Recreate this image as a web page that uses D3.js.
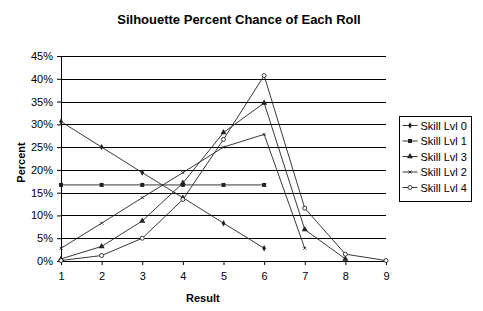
<!DOCTYPE html>
<html>
<head>
<meta charset="utf-8">
<script src="https://cdn.jsdelivr.net/npm/d3@7"></script>
<style>
  body { margin: 0; background: #fff; }
  text { font-family: Arial, "Liberation Sans", sans-serif; }
</style>
</head>
<body>
<div id="chart"></div>
<script>
// chart data
var results = [1, 2, 3, 4, 5, 6, 7, 8, 9];
var lvl0 = [30.6, 25.0, 19.4, 13.9, 8.3, 2.8];
var lvl1 = [16.7, 16.7, 16.7, 16.7, 16.7, 16.7];
var lvl3 = [0.46, 3.2, 8.8, 17.1, 28.2, 34.7, 6.9, 0.46];
var lvl2 = [2.8, 8.3, 13.9, 19.4, 25.0, 27.8, 2.8];
var lvl4 = [0.1, 1.2, 5.0, 13.5, 26.7, 40.7, 11.6, 1.5, 0.1];
var yTicks = [0, 5, 10, 15, 20, 25, 30, 35, 40, 45];

var seriesList = [
  { name: "Skill Lvl 0", values: lvl0, marker: "diamond" },
  { name: "Skill Lvl 1", values: lvl1, marker: "square" },
  { name: "Skill Lvl 3", values: lvl3, marker: "triangle" },
  { name: "Skill Lvl 2", values: lvl2, marker: "cross" },
  { name: "Skill Lvl 4", values: lvl4, marker: "circle" }
];

var svgWidth = 483;
var svgHeight = 311;
var margin = { top: 56, left: 61, right: 97, bottom: 50 };
var width = svgWidth - margin.left - margin.right;   // 325
var height = svgHeight - margin.top - margin.bottom; // 205

var svg = d3.select("#chart")
  .append("svg")
  .attr("width", svgWidth)
  .attr("height", svgHeight);

var chartGroup = svg.append("g")
  .attr("transform", `translate(${margin.left}, ${margin.top})`);

var xScale = d3.scaleLinear().domain([1, 9]).range([0, width]);
var yScale = d3.scaleLinear().domain([0, 45]).range([height, 0]);

// gridlines
chartGroup.selectAll(".grid")
  .data(yTicks.filter(d => d > 0))
  .enter()
  .append("line")
  .attr("x1", 0)
  .attr("x2", width)
  .attr("y1", d => Math.round(yScale(d)) + 0.5)
  .attr("y2", d => Math.round(yScale(d)) + 0.5)
  .attr("stroke", "#000")
  .attr("stroke-width", 1);

// axes
var leftAxis = d3.axisLeft(yScale).tickValues(yTicks).tickSize(4).tickSizeOuter(0)
  .tickFormat(d => d + "%");
var bottomAxis = d3.axisBottom(xScale).tickValues(results).tickSize(4).tickSizeOuter(0)
  .tickFormat(d3.format("d"));

var yAxis = chartGroup.append("g").call(leftAxis);
var xAxis = chartGroup.append("g")
  .attr("transform", `translate(0, ${height})`)
  .call(bottomAxis);

[yAxis, xAxis].forEach(function(ax) {
  ax.select(".domain").attr("stroke", "#000");
  ax.selectAll(".tick line").attr("stroke", "#000");
  ax.selectAll("text").attr("font-size", "11px").attr("fill", "#000")
    .attr("font-family", "Arial, 'Liberation Sans', sans-serif");
});
yAxis.selectAll("text").attr("x", -8);
xAxis.selectAll("text").attr("y", 11);

// marker drawing
function drawMarker(g, type, x, y) {
  if (type === "diamond") {
    g.append("path").attr("d", d3.symbol().type(d3.symbolDiamond).size(12)())
      .attr("transform", `translate(${x},${y})`).attr("fill", "#222");
  } else if (type === "square") {
    g.append("rect").attr("x", x - 2).attr("y", y - 2).attr("width", 4).attr("height", 4)
      .attr("fill", "#222");
  } else if (type === "triangle") {
    g.append("path").attr("d", d3.symbol().type(d3.symbolTriangle).size(16)())
      .attr("transform", `translate(${x},${y})`).attr("fill", "#222");
  } else if (type === "cross") {
    g.append("path").attr("d", `M${x - 1.5},${y - 1.5}L${x + 1.5},${y + 1.5}M${x - 1.5},${y + 1.5}L${x + 1.5},${y - 1.5}`)
      .attr("stroke", "#222").attr("stroke-width", 0.9).attr("fill", "none");
  } else {
    g.append("circle").attr("cx", x).attr("cy", y).attr("r", 2)
      .attr("fill", "#fff").attr("stroke", "#222").attr("stroke-width", 0.9);
  }
}

var line = d3.line()
  .x((d, i) => xScale(results[i]))
  .y(d => yScale(d));

seriesList.forEach(function(s) {
  var g = chartGroup.append("g");
  g.append("path")
    .attr("d", line(s.values))
    .attr("fill", "none")
    .attr("stroke", "#222")
    .attr("stroke-width", 0.9);
  s.values.forEach(function(v, i) {
    drawMarker(g, s.marker, xScale(results[i]), yScale(v));
  });
});

// title and axis labels
svg.append("text")
  .attr("x", 239)
  .attr("y", 24)
  .attr("text-anchor", "middle")
  .attr("font-size", "13px")
  .attr("font-weight", "bold")
  .text("Silhouette Percent Chance of Each Roll");

svg.append("text")
  .attr("x", margin.left + xScale(4) + 20)
  .attr("y", 302)
  .attr("text-anchor", "middle")
  .attr("font-size", "11px")
  .attr("font-weight", "bold")
  .text("Result");

svg.append("text")
  .attr("transform", `translate(25, ${margin.top + height / 2 + 4}) rotate(-90)`)
  .attr("text-anchor", "middle")
  .attr("font-size", "11px")
  .attr("font-weight", "bold")
  .text("Percent");

// legend
var legend = svg.append("g").attr("transform", "translate(399.5, 116.5)");
legend.append("rect")
  .attr("width", 72)
  .attr("height", 85)
  .attr("fill", "#fff")
  .attr("stroke", "#000");

seriesList.forEach(function(s, i) {
  var ly = 9 + i * 15.5;
  var row = legend.append("g");
  row.append("line").attr("x1", 3).attr("x2", 18).attr("y1", ly).attr("y2", ly)
    .attr("stroke", "#222").attr("stroke-width", 0.9);
  drawMarker(row, s.marker, 10.5, ly);
  row.append("text")
    .attr("x", 21)
    .attr("y", ly + 4)
    .attr("font-size", "11px")
    .text(s.name);
});
</script>
</body>
</html>
